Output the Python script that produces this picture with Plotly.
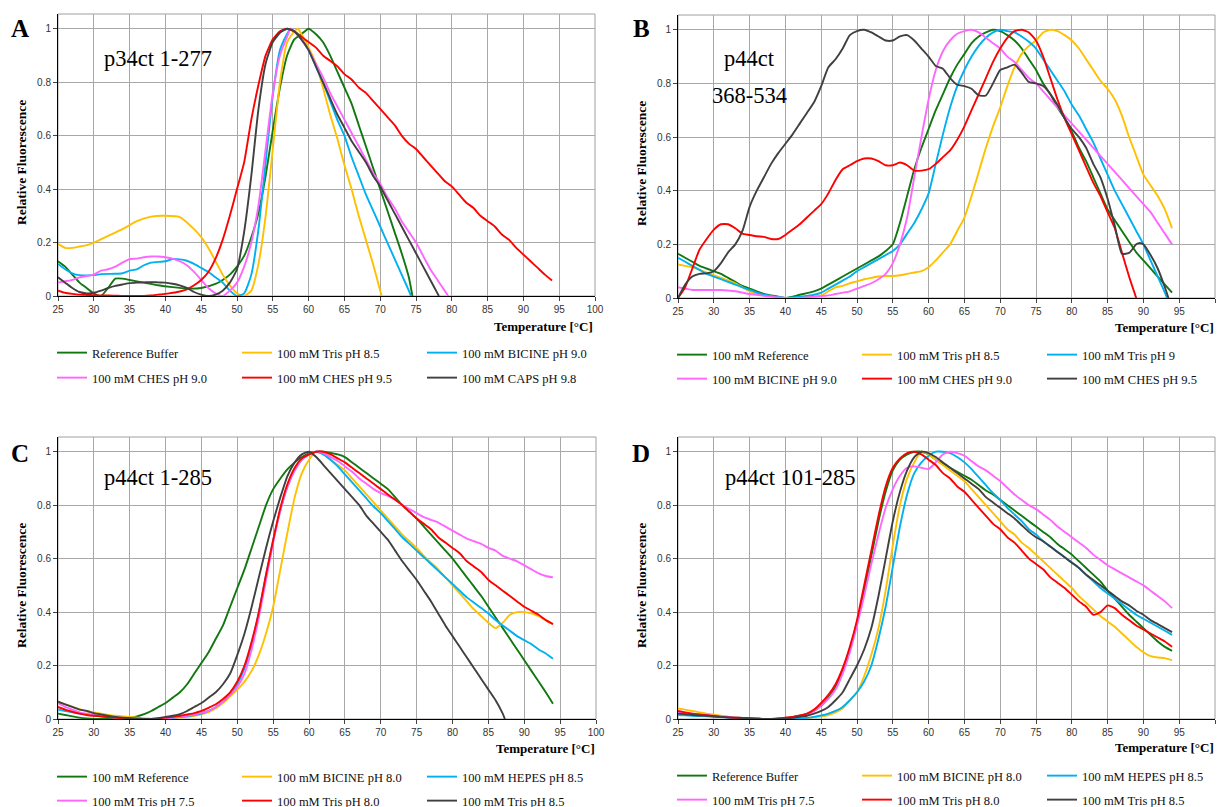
import plotly.graph_objects as go

W, H = 1221, 807

# ---------------- data ----------------
T_FULL = list(range(25, 95))

# Panel A  (p34ct 1-277)
A_ref_T = [25,26,27,28,29,30,31,32,33,34,35,37,39,41,43,45,47,48,49,50,51,52,53,54,55,56,57,58,59,60,61,62,63,64,65,66,67,68,69,70,71,72,73,74,74.5]
A_ref_v = [.13,.11,.08,.05,.03,.01,0,.03,.065,.065,.06,.05,.04,.033,.028,.03,.045,.06,.08,.11,.15,.22,.31,.45,.62,.78,.9,.96,.98,1.0,.98,.95,.9,.84,.78,.72,.64,.56,.48,.4,.32,.24,.16,.07,0]
A_tris_T = [25,26,27,28,29,30,32,34,36,38,40,42,44,45,46,47,48,49,50,51,52,53,54,55,56,57,58,58.5,59,60,61,62,63,64,65,66,67,68,69,70,70.2]
A_tris_v = [.195,.18,.18,.185,.19,.2,.225,.25,.28,.297,.3,.295,.25,.22,.18,.13,.08,.04,.01,0,.02,.12,.3,.55,.8,.95,.99,1.0,.98,.93,.87,.78,.68,.59,.49,.40,.30,.21,.12,.02,0]
A_bic_T = [25,26,27,28,30,31,33,34,35,36,37,38,40,41,42,43,44,45,46,47,48,49,50,51,52,53,54,55,56,57,57.5,58,59,60,61,62,63,64,65,66,67,68,69,70,71,72,73,74,74.3]
A_bic_v = [.12,.1,.085,.078,.078,.082,.083,.085,.095,.1,.115,.125,.13,.138,.137,.132,.12,.105,.09,.07,.05,.02,0,.01,.08,.25,.5,.75,.92,.98,1.0,.99,.96,.92,.86,.8,.73,.66,.6,.52,.45,.38,.32,.26,.2,.14,.08,.02,0]
A_ches90_T = [25,26,27,28,29,30,31,32,33,34,35,36,37,38,39,40,41,42,43,44,45,46,47,48,49,50,51,52,53,54,55,56,57,57.5,58,59,60,61,62,63,64,65,66,67,68,69,70,71,72,73,74,75,76,77,78,79,79.5]
A_ches90_v = [.05,.055,.06,.07,.075,.08,.095,.1,.11,.125,.138,.14,.145,.148,.148,.145,.14,.13,.115,.09,.06,.03,.01,0,.02,.05,.11,.2,.34,.55,.76,.9,.97,1.0,.99,.96,.92,.87,.82,.76,.71,.66,.61,.56,.51,.46,.42,.37,.33,.28,.24,.2,.15,.1,.06,.02,0]
A_ches95_v = [.02,.012,.008,.005,.004,.003,.002,.002,.001,0,
              0,0,0,.002,.005,.008,.012,.017,.025,.04,
              .06,.09,.14,.21,.3,.4,.5,.66,.79,.9,
              .96,.99,1.0,.99,.97,.95,.93,.9,.88,.86,
              .83,.81,.78,.76,.73,.7,.67,.64,.6,.57,
              .55,.52,.49,.46,.43,.41,.38,.35,.33,.30,
              .28,.26,.23,.21,.18,.155,.13,.105,.08,.058]
A_caps_T = [25,26,27,28,29,30,31,32,33,34,35,36,37,38,39,40,41,42,43,44,45,46,47,48,49,50,51,52,53,54,55,56,57,58,59,60,61,62,63,64,65,66,67,68,69,70,71,72,73,74,75,76,77,78,78.2]
A_caps_v = [.07,.05,.03,.015,.01,.012,.02,.03,.038,.043,.048,.05,.051,.052,.051,.05,.046,.04,.03,.015,.005,0,.005,.02,.05,.1,.24,.45,.7,.87,.95,.985,1.0,.99,.96,.92,.86,.8,.74,.68,.63,.58,.54,.50,.45,.41,.36,.31,.26,.21,.16,.11,.06,.01,0]

# Panel B  (p44ct 368-534)
B_ref_v = [.165,.15,.135,.12,.11,.1,.09,.075,.06,.045,
           .035,.025,.015,.01,.005,0,.005,.012,.018,.025,
           .035,.05,.065,.08,.095,.11,.125,.14,.155,.175,
           .2,.28,.38,.48,.56,.63,.7,.76,.82,.87,
           .91,.95,.975,.99,1.0,.995,.98,.96,.93,.89,
           .85,.8,.76,.71,.67,.62,.56,.51,.45,.39,
           .33,.29,.25,.21,.17,.14,.11,.08,.05,.02]
B_tris85_v = [.125,.12,.115,.105,.095,.085,.075,.065,.055,.04,
              .025,.015,.01,.005,.002,0,0,0,.003,.005,
              .01,.025,.04,.045,.055,.062,.07,.075,.08,.082,
              .082,.085,.09,.095,.1,.115,.14,.17,.2,.25,
              .3,.38,.47,.56,.64,.71,.79,.86,.91,.94,
              .96,.99,1.0,.995,.98,.96,.93,.89,.85,.81,
              .78,.74,.68,.6,.53,.46,.42,.38,.33,.26]
B_tris9_T = list(range(25, 94)) + [93.3]
B_tris9_v = [.15,.135,.12,.105,.09,.08,.07,.06,.05,.04,
             .03,.02,.012,.008,.004,0,.002,.005,.008,.012,
             .02,.035,.05,.065,.08,.1,.115,.13,.145,.16,
             .175,.2,.24,.28,.33,.39,.5,.61,.71,.79,
             .85,.9,.94,.97,.99,1.0,.995,.99,.975,.955,
             .93,.89,.85,.81,.77,.72,.68,.63,.58,.52,
             .46,.4,.35,.3,.25,.2,.14,.08,.02,0]
B_bic_v = [.04,.035,.03,.03,.03,.03,.03,.028,.025,.02,
           .015,.012,.008,.005,.002,0,0,0,.002,.005,
           .007,.01,.015,.02,.025,.035,.045,.055,.07,.09,
           .13,.2,.3,.45,.6,.74,.85,.92,.96,.985,
           .995,1.0,.99,.97,.95,.93,.9,.88,.85,.82,
           .8,.77,.74,.71,.68,.65,.62,.59,.56,.53,
           .5,.47,.44,.41,.38,.35,.32,.28,.24,.2]
B_ches90_T = list(range(25, 90))
B_ches90_v = [0,.04,.11,.18,.22,.255,.275,.275,.26,.24,
              .235,.23,.228,.22,.22,.235,.255,.275,.3,.325,
              .35,.39,.44,.48,.495,.51,.52,.52,.51,.495,
              .495,.505,.495,.475,.475,.48,.5,.525,.55,.59,
              .64,.7,.76,.82,.88,.93,.97,.995,1.0,.99,
              .96,.9,.82,.74,.67,.61,.55,.49,.43,.38,
              .32,.26,.17,.08,0]
B_ches95_T = list(range(25, 88)) + [88, 89, 89.5, 90, 91, 92, 93, 93.5]
B_ches95_v = [0,.05,.08,.09,.092,.1,.13,.17,.2,.25,
              .34,.4,.45,.5,.54,.575,.61,.65,.69,.73,
              .79,.86,.89,.93,.98,.995,1.0,.99,.975,.96,
              .96,.975,.98,.96,.93,.9,.865,.855,.82,.795,
              .79,.78,.755,.755,.8,.85,.86,.87,.84,.805,
              .8,.79,.76,.72,.67,.63,.6,.56,.5,.45,
              .37,.27,.165,
              .168,.2,.205,.2,.16,.11,.04,0]

# Panel C  (p44ct 1-285)
C_ref_v = [.02,.015,.01,.005,.002,0,0,0,.001,.002,
           .005,.01,.018,.03,.045,.06,.08,.1,.13,.17,
           .21,.25,.3,.35,.42,.49,.56,.64,.72,.8,
           .86,.9,.935,.96,.98,.995,1.0,1.0,.995,.99,
           .98,.96,.94,.92,.9,.88,.86,.83,.8,.775,
           .75,.72,.69,.66,.63,.6,.565,.53,.495,.46,
           .42,.38,.34,.3,.26,.22,.18,.14,.1,.057]
C_bic_v = [.065,.055,.045,.037,.03,.025,.02,.015,.012,.01,
           .008,.005,.003,.001,0,0,.002,.005,.008,.012,
           .018,.026,.04,.06,.085,.11,.14,.18,.24,.32,
           .42,.56,.7,.83,.92,.97,1.0,.99,.97,.95,
           .93,.9,.87,.84,.81,.78,.75,.72,.69,.665,
           .64,.61,.585,.56,.53,.5,.47,.44,.41,.385,
           .36,.34,.36,.39,.4,.4,.395,.385,.37,.355]
C_hepes_v = [.035,.03,.025,.02,.017,.013,.01,.008,.006,.004,
             .003,.002,0,0,0,.002,.004,.007,.01,.015,
             .02,.03,.045,.065,.09,.13,.19,.28,.4,.54,
             .67,.78,.87,.93,.97,.99,1.0,.99,.97,.945,
             .915,.885,.855,.825,.795,.77,.74,.71,.68,.655,
             .63,.605,.58,.555,.53,.505,.48,.455,.435,.415,
             .395,.37,.35,.33,.31,.295,.28,.26,.245,.225]
C_tris75_v = [.06,.045,.035,.025,.02,.015,.01,.007,.005,.003,
              .002,.001,0,0,0,.003,.005,.008,.012,.017,
              .023,.03,.045,.065,.09,.12,.17,.26,.38,.52,
              .66,.78,.87,.93,.97,.99,1.0,.995,.98,.965,
              .945,.925,.9,.88,.86,.845,.835,.82,.8,.785,
              .77,.755,.745,.735,.72,.705,.69,.675,.665,.655,
              .64,.63,.61,.6,.59,.575,.56,.545,.535,.53]
C_tris80_v = [.045,.035,.027,.02,.015,.012,.01,.007,.005,.003,
              .002,.001,0,0,.002,.005,.008,.012,.017,.022,
              .03,.042,.055,.075,.1,.14,.2,.29,.4,.54,
              .67,.79,.88,.94,.975,.99,1.0,1.0,.99,.975,
              .96,.94,.92,.9,.88,.86,.84,.82,.8,.775,
              .75,.73,.71,.68,.66,.64,.62,.59,.57,.55,
              .52,.5,.48,.46,.44,.42,.405,.39,.37,.355]
C_tris85_T = list(range(25, 88)) + [87.3]
C_tris85_v = [.065,.055,.045,.035,.03,.022,.017,.012,.008,.005,
              .003,0,0,0,.003,.008,.012,.018,.03,.045,
              .06,.08,.1,.13,.17,.24,.32,.42,.53,.64,
              .74,.83,.91,.96,.99,1.0,.98,.95,.92,.89,
              .86,.83,.8,.76,.73,.7,.67,.63,.59,.555,
              .52,.48,.44,.395,.35,.31,.27,.23,.19,.15,
              .11,.07,.02,0]

# Panel D  (p44ct 101-285)
D_ref_v = [.025,.022,.019,.016,.013,.01,.008,.006,.004,.003,
           .002,.001,0,0,.002,.004,.007,.012,.018,.03,
           .05,.08,.12,.18,.26,.36,.48,.61,.74,.85,
           .93,.97,.99,1.0,1.0,.99,.97,.955,.94,.925,
           .91,.895,.875,.855,.84,.82,.8,.78,.76,.74,
           .72,.7,.68,.655,.635,.615,.59,.565,.54,.515,
           .48,.45,.42,.39,.365,.34,.315,.29,.27,.255]
D_bic_v = [.04,.035,.03,.025,.02,.016,.012,.009,.006,.004,
           .002,.001,0,0,0,0,0,.002,.004,.007,
           .01,.015,.025,.04,.07,.1,.16,.24,.34,.48,
           .65,.8,.9,.96,1.0,.99,.97,.95,.93,.91,
           .89,.86,.83,.8,.77,.74,.71,.69,.66,.64,
           .615,.59,.565,.54,.515,.49,.46,.435,.41,.385,
           .365,.345,.32,.295,.27,.25,.235,.23,.228,.22]
D_hepes_v = [.015,.014,.012,.011,.01,.008,.007,.005,.004,.003,
             .002,.001,0,0,0,0,0,.002,.004,.008,
             .013,.02,.03,.045,.07,.1,.14,.2,.3,.42,
             .57,.72,.84,.92,.96,.985,1.0,1.0,.995,.98,
             .96,.935,.905,.875,.845,.82,.79,.765,.74,.71,
             .69,.665,.645,.625,.605,.585,.565,.54,.515,.49,
             .47,.45,.43,.41,.39,.375,.36,.345,.33,.315]
D_tris75_v = [.025,.023,.02,.017,.015,.012,.01,.008,.006,.004,
              .003,.001,0,0,0,.003,.006,.01,.017,.03,
              .05,.075,.11,.17,.25,.35,.46,.58,.69,.79,
              .86,.91,.94,.945,.94,.935,.96,.99,1.0,.995,
              .985,.965,.945,.93,.91,.89,.865,.84,.82,.8,
              .785,.765,.745,.72,.7,.68,.66,.64,.615,.595,
              .575,.56,.545,.53,.515,.5,.48,.46,.44,.415]
D_tris80_v = [.03,.025,.02,.017,.014,.011,.008,.006,.004,.003,
              .002,.001,0,0,.002,.005,.008,.013,.02,.035,
              .06,.09,.13,.19,.27,.37,.5,.63,.76,.87,
              .94,.975,.995,1.0,.99,.97,.95,.92,.9,.87,
              .85,.82,.79,.76,.73,.71,.68,.66,.63,.6,
              .58,.56,.53,.51,.49,.465,.44,.42,.39,.4,
              .425,.415,.39,.37,.35,.335,.32,.305,.29,.27]
D_tris85_v = [.02,.018,.015,.013,.012,.01,.008,.006,.005,.004,
              .003,.001,0,0,0,.002,.004,.008,.012,.02,
              .03,.045,.07,.1,.15,.2,.26,.34,.46,.6,
              .74,.85,.93,.98,1.0,.995,.98,.96,.94,.92,
              .9,.88,.86,.83,.81,.79,.77,.75,.725,.7,
              .68,.665,.645,.625,.605,.585,.565,.54,.52,.5,
              .48,.46,.44,.425,.405,.39,.37,.355,.34,.325]

GREEN, YELLOW, CYAN, PINK, RED, DARK = "#117711", "#ffc000", "#00b0f0", "#ff66ff", "#ff0000", "#404040"

panels = {
    "A": dict(ax="", series=[
        ("Reference Buffer", A_ref_T, A_ref_v, GREEN),
        ("100 mM Tris pH 8.5", A_tris_T, A_tris_v, YELLOW),
        ("100 mM BICINE pH 9.0", A_bic_T, A_bic_v, CYAN),
        ("100 mM CHES pH 9.0", A_ches90_T, A_ches90_v, PINK),
        ("100 mM CHES pH 9.5", T_FULL, A_ches95_v, RED),
        ("100 mM CAPS pH 9.8", A_caps_T, A_caps_v, DARK)]),
    "B": dict(ax="2", series=[
        ("100 mM Reference", T_FULL, B_ref_v, GREEN),
        ("100 mM Tris pH 8.5", T_FULL, B_tris85_v, YELLOW),
        ("100 mM Tris pH 9", B_tris9_T, B_tris9_v, CYAN),
        ("100 mM BICINE pH 9.0", T_FULL, B_bic_v, PINK),
        ("100 mM CHES pH 9.0", B_ches90_T, B_ches90_v, RED),
        ("100 mM CHES pH 9.5", B_ches95_T, B_ches95_v, DARK)]),
    "C": dict(ax="3", series=[
        ("100 mM Reference", T_FULL, C_ref_v, GREEN),
        ("100 mM BICINE pH 8.0", T_FULL, C_bic_v, YELLOW),
        ("100 mM HEPES pH 8.5", T_FULL, C_hepes_v, CYAN),
        ("100 mM Tris pH 7.5", T_FULL, C_tris75_v, PINK),
        ("100 mM Tris pH 8.0", T_FULL, C_tris80_v, RED),
        ("100 mM Tris pH 8.5", C_tris85_T, C_tris85_v, DARK)]),
    "D": dict(ax="4", series=[
        ("Reference Buffer", T_FULL, D_ref_v, GREEN),
        ("100 mM BICINE pH 8.0", T_FULL, D_bic_v, YELLOW),
        ("100 mM HEPES pH 8.5", T_FULL, D_hepes_v, CYAN),
        ("100 mM Tris pH 7.5", T_FULL, D_tris75_v, PINK),
        ("100 mM Tris pH 8.0", T_FULL, D_tris80_v, RED),
        ("100 mM Tris pH 8.5", T_FULL, D_tris85_v, DARK)]),
}

# ---------------- layout geometry (pixels) ----------------
geom = {
    "A": dict(x0=58, x1=595, y0=14, y1=296, leg_rows=(353, 378), leg_x=92, letter=(20, 28), ytitle=(21, 163), xtitle=(595, 326)),
    "B": dict(x0=678, x1=1215, y0=15, y1=298, leg_rows=(355, 379), leg_x=712, letter=(641, 28), ytitle=(641, 164), xtitle=(1216, 327)),
    "C": dict(x0=58, x1=596, y0=437, y1=719, leg_rows=(777, 801), leg_x=92, letter=(20, 453), ytitle=(21, 586), xtitle=(597, 748)),
    "D": dict(x0=678, x1=1215, y0=437, y1=719, leg_rows=(776, 800), leg_x=712, letter=(641, 453), ytitle=(641, 586), xtitle=(1216, 747)),
}

def px(x):
    return x / W

def py(y):
    return 1 - y / H

SERIF = "Liberation Serif"
SANS = "Liberation Sans"

fig = go.Figure()
layout = dict(width=W, height=H, margin=dict(l=0, r=0, t=0, b=0, autoexpand=False),
              paper_bgcolor="white", plot_bgcolor="white", template="none", showlegend=True)
annotations = []
shapes = []
leg_idx = 0
for key, p in panels.items():
    g = geom[key]
    ax = p["ax"]
    xa, ya = "x" + ax, "y" + ax
    legs = []
    for r in range(2):
        leg_idx += 1
        name = "legend" if leg_idx == 1 else "legend%d" % leg_idx
        legs.append(name)
        layout[name] = dict(orientation="h", x=px(g["leg_x"] - 40), xanchor="left",
                            y=py(g["leg_rows"][r]), yanchor="middle",
                            entrywidth=140, entrywidthmode="pixels",
                            bgcolor="rgba(0,0,0,0)", borderwidth=0,
                            font=dict(family=SERIF, size=12.5, color="#111"),
                            tracegroupgap=0, itemwidth=30)
    for i, (nm, xs, ys, col) in enumerate(p["series"]):
        fig.add_trace(go.Scatter(x=xs, y=ys, mode="lines", name=nm,
                                 line=dict(color=col, width=1.9, shape="spline", smoothing=0.5),
                                 xaxis=xa, yaxis=ya, legend=legs[i // 3], hoverinfo="skip"))
    axis_common = dict(showgrid=True, gridcolor="#a8a8a8", gridwidth=1,
                       showline=True, linecolor="#000", linewidth=1,
                       ticks="outside", ticklen=4, tickcolor="#444", zeroline=False,
                       tickfont=dict(family=SANS, size=10, color="#333"))
    layout["xaxis" + ax] = dict(domain=[px(g["x0"]), px(g["x1"])], range=[25, 100], dtick=5, tick0=25,
                                anchor=ya, **axis_common)
    layout["yaxis" + ax] = dict(domain=[py(g["y1"]), py(g["y0"])], range=[0, 1.055],
                                tickvals=[0, .2, .4, .6, .8, 1], ticktext=["0", "0.2", "0.4", "0.6", "0.8", "1"],
                                anchor=xa, **axis_common)
    shapes.append(dict(type="rect", xref=xa + " domain", yref=ya + " domain", x0=0, x1=1, y0=0, y1=1,
                       line=dict(color="#a0a0a0", width=1), layer="below"))
    annotations.append(dict(text="<b>%s</b>" % key, x=px(g["letter"][0]), y=py(g["letter"][1]),
                            xref="paper", yref="paper", showarrow=False, xanchor="center", yanchor="middle",
                            font=dict(family=SERIF, size=25, color="black")))
    annotations.append(dict(text="<b>Relative Fluorescence</b>", x=px(g["ytitle"][0]), y=py(g["ytitle"][1]),
                            xref="paper", yref="paper", showarrow=False, textangle=-90,
                            xanchor="center", yanchor="middle",
                            font=dict(family=SERIF, size=13.5, color="black")))
    annotations.append(dict(text="<b>Temperature [°C]</b>", x=px(g["xtitle"][0]), y=py(g["xtitle"][1]),
                            xref="paper", yref="paper", showarrow=False, xanchor="right", yanchor="middle",
                            font=dict(family=SERIF, size=13, color="black")))

annotations.append(dict(text="p34ct 1-277", x=px(102), y=py(59), xref="paper", yref="paper", showarrow=False,
                        xanchor="left", yanchor="middle", font=dict(family=SERIF, size=22.5, color="black")))
annotations.append(dict(text="p44ct", x=px(749), y=py(58), xref="paper", yref="paper", showarrow=False,
                        xanchor="center", yanchor="middle", font=dict(family=SERIF, size=22.5, color="black")))
annotations.append(dict(text="368-534", x=px(749), y=py(95), xref="paper", yref="paper", showarrow=False,
                        xanchor="center", yanchor="middle", font=dict(family=SERIF, size=22.5, color="black")))
annotations.append(dict(text="p44ct 1-285", x=px(102), y=py(478), xref="paper", yref="paper", showarrow=False,
                        xanchor="left", yanchor="middle", font=dict(family=SERIF, size=22.5, color="black")))
annotations.append(dict(text="p44ct 101-285", x=px(723), y=py(478), xref="paper", yref="paper", showarrow=False,
                        xanchor="left", yanchor="middle", font=dict(family=SERIF, size=22.5, color="black")))

layout["annotations"] = annotations
layout["shapes"] = shapes
fig.update_layout(**layout)
fig.write_html("out.html", config={"displayModeBar": False},
               post_script="document.body.style.margin='0px';document.body.style.overflow='hidden';")
